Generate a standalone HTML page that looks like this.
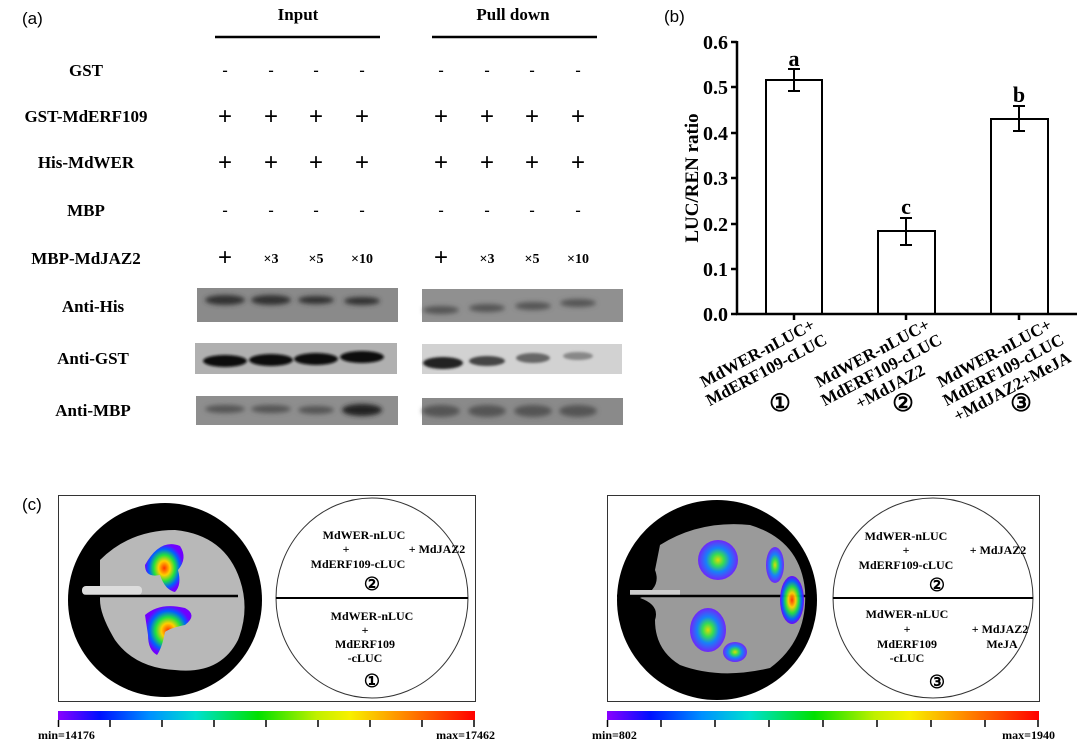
<!DOCTYPE html>
<html><head><meta charset="utf-8"><style>
html,body{margin:0;padding:0;background:#fff}
svg{display:block}
.b{font-family:"Liberation Serif",serif;font-weight:bold}
.s{font-family:"Liberation Sans",sans-serif}
</style></head><body>
<svg width="1080" height="743" viewBox="0 0 1080 743" xmlns="http://www.w3.org/2000/svg">
<defs>
<filter id="blur2"><feGaussianBlur stdDeviation="2.5"/></filter>
<filter id="blur1"><feGaussianBlur stdDeviation="1.2"/></filter>
<linearGradient id="cb" x1="0" x2="1">
<stop offset="0" stop-color="#8a00ff"/><stop offset="0.1" stop-color="#0010ff"/><stop offset="0.22" stop-color="#0090ff"/><stop offset="0.33" stop-color="#00e0d0"/><stop offset="0.48" stop-color="#00e000"/><stop offset="0.62" stop-color="#c0f000"/><stop offset="0.7" stop-color="#f8f000"/><stop offset="0.82" stop-color="#ff9000"/><stop offset="1" stop-color="#ff0000"/>
</linearGradient>
<radialGradient id="hot"><stop offset="0" stop-color="#ff3000"/><stop offset="0.3" stop-color="#ffd000"/><stop offset="0.55" stop-color="#20e040"/><stop offset="0.8" stop-color="#0060ff"/><stop offset="1" stop-color="#7000ff"/></radialGradient>
<radialGradient id="cool"><stop offset="0" stop-color="#e0e000"/><stop offset="0.3" stop-color="#30e050"/><stop offset="0.6" stop-color="#1080ff"/><stop offset="1" stop-color="#7020ff"/></radialGradient>
</defs>

<!-- Panel a -->
<text x="22" y="24" class="s" font-size="17">(a)</text>
<text x="298" y="20" class="b" font-size="17" text-anchor="middle">Input</text>
<text x="513" y="20" class="b" font-size="17" text-anchor="middle">Pull down</text>
<line x1="215" y1="37" x2="380" y2="37" stroke="#000" stroke-width="2.5"/>
<line x1="432" y1="37" x2="597" y2="37" stroke="#000" stroke-width="2.5"/>
<g class="b" font-size="17" text-anchor="middle">
<text x="86" y="76">GST</text>
<text x="86" y="122">GST-MdERF109</text>
<text x="86" y="168">His-MdWER</text>
<text x="86" y="216">MBP</text>
<text x="86" y="264">MBP-MdJAZ2</text>
<text x="93" y="312">Anti-His</text>
<text x="93" y="364">Anti-GST</text>
<text x="93" y="416">Anti-MBP</text>
</g>
<g class="b" font-size="16" text-anchor="middle">
<g id="colsA">
<text x="225" y="75">-</text><text x="271" y="75">-</text><text x="316" y="75">-</text><text x="362" y="75">-</text>
<g font-size="24" font-weight="normal" class="s"><text x="225" y="124">+</text><text x="271" y="124">+</text><text x="316" y="124">+</text><text x="362" y="124">+</text>
<text x="225" y="170">+</text><text x="271" y="170">+</text><text x="316" y="170">+</text><text x="362" y="170">+</text>
<text x="225" y="265">+</text></g>
<text x="225" y="215">-</text><text x="271" y="215">-</text><text x="316" y="215">-</text><text x="362" y="215">-</text>
<text x="271" y="263" font-size="14">×3</text><text x="316" y="263" font-size="14">×5</text><text x="362" y="263" font-size="14">×10</text>
</g>
<use href="#colsA" x="216"/>
</g>
<!-- blots -->
<g>
<rect x="197" y="288" width="201" height="34" fill="#8a8a8a"/>
<rect x="422" y="289" width="201" height="33" fill="#909090"/>
<rect x="195" y="343" width="202" height="31" fill="#b0b0b0"/>
<rect x="422" y="344" width="200" height="30" fill="#d2d2d2"/>
<rect x="196" y="396" width="202" height="29" fill="#8e8e8e"/>
<rect x="422" y="398" width="201" height="27" fill="#8a8a8a"/>
<g filter="url(#blur2)" fill="#333">
<ellipse cx="225" cy="300" rx="20" ry="5"/><ellipse cx="271" cy="300" rx="20" ry="5"/><ellipse cx="316" cy="300" rx="18" ry="4"/><ellipse cx="362" cy="301" rx="18" ry="4"/>
<ellipse cx="441" cy="310" rx="18" ry="4" fill="#555"/><ellipse cx="487" cy="308" rx="18" ry="4" fill="#555"/><ellipse cx="533" cy="306" rx="18" ry="4" fill="#555"/><ellipse cx="578" cy="303" rx="18" ry="4" fill="#555"/>
<ellipse cx="225" cy="409" rx="20" ry="4" fill="#555"/><ellipse cx="271" cy="409" rx="20" ry="4" fill="#555"/><ellipse cx="316" cy="410" rx="18" ry="4" fill="#555"/><ellipse cx="362" cy="410" rx="20" ry="6" fill="#222"/>
<ellipse cx="441" cy="411" rx="19" ry="6" fill="#555"/><ellipse cx="487" cy="411" rx="19" ry="6" fill="#555"/><ellipse cx="533" cy="411" rx="19" ry="6" fill="#555"/><ellipse cx="578" cy="411" rx="19" ry="6" fill="#555"/>
</g>
<g filter="url(#blur1)">
<ellipse cx="225" cy="361" rx="22" ry="6" fill="#111"/><ellipse cx="271" cy="360" rx="22" ry="6" fill="#111"/><ellipse cx="316" cy="359" rx="22" ry="6" fill="#111"/><ellipse cx="362" cy="357" rx="22" ry="6" fill="#111"/>
<ellipse cx="443" cy="363" rx="20" ry="6" fill="#222"/><ellipse cx="487" cy="361" rx="18" ry="5" fill="#444"/><ellipse cx="533" cy="358" rx="17" ry="5" fill="#666"/><ellipse cx="578" cy="356" rx="15" ry="4" fill="#888"/>
</g>
</g>

<!-- Panel b -->
<text x="664" y="22" class="s" font-size="17">(b)</text>
<g stroke="#000" stroke-width="2.5" fill="none">
<line x1="737" y1="41" x2="737" y2="315"/>
<line x1="736" y1="314" x2="1077" y2="314"/>
<line x1="731" y1="42" x2="737" y2="42"/><line x1="731" y1="87" x2="737" y2="87"/><line x1="731" y1="133" x2="737" y2="133"/><line x1="731" y1="178" x2="737" y2="178"/><line x1="731" y1="224" x2="737" y2="224"/><line x1="731" y1="269" x2="737" y2="269"/><line x1="731" y1="314" x2="737" y2="314"/>
<line x1="794" y1="314" x2="794" y2="320"/><line x1="906" y1="314" x2="906" y2="320"/><line x1="1019" y1="314" x2="1019" y2="320"/>
<rect x="766" y="80" width="56" height="234" stroke-width="2"/>
<rect x="878" y="231" width="57" height="83" stroke-width="2"/>
<rect x="991" y="119" width="57" height="195" stroke-width="2"/>
<g stroke-width="2">
<line x1="794" y1="69" x2="794" y2="91"/><line x1="788" y1="69" x2="800" y2="69"/><line x1="788" y1="91" x2="800" y2="91"/>
<line x1="906" y1="218" x2="906" y2="245"/><line x1="900" y1="218" x2="912" y2="218"/><line x1="900" y1="245" x2="912" y2="245"/>
<line x1="1019" y1="106" x2="1019" y2="131"/><line x1="1013" y1="106" x2="1025" y2="106"/><line x1="1013" y1="131" x2="1025" y2="131"/>
</g>
</g>
<g class="b" font-size="20" text-anchor="end">
<text x="728" y="49">0.6</text><text x="728" y="94">0.5</text><text x="728" y="140">0.4</text><text x="728" y="185">0.3</text><text x="728" y="231">0.2</text><text x="728" y="276">0.1</text><text x="728" y="321">0.0</text>
</g>
<text transform="translate(698,178) rotate(-90)" class="b" font-size="19" text-anchor="middle">LUC/REN ratio</text>
<g class="b" font-size="22" text-anchor="middle">
<text x="794" y="66">a</text><text x="906" y="214">c</text><text x="1019" y="102">b</text>
</g>
<g class="b" font-size="17" text-anchor="middle">
<text transform="translate(760,358) rotate(-28)"><tspan x="0" y="0">MdWER-nLUC+</tspan><tspan x="0" y="19">MdERF109-cLUC</tspan></text>
<text transform="translate(875,358) rotate(-28)"><tspan x="0" y="0">MdWER-nLUC+</tspan><tspan x="0" y="19">MdERF109-cLUC</tspan><tspan x="0" y="38">+MdJAZ2</tspan></text>
<text transform="translate(997,358) rotate(-28)"><tspan x="0" y="0">MdWER-nLUC+</tspan><tspan x="0" y="19">MdERF109-cLUC</tspan><tspan x="0" y="38">+MdJAZ2+MeJA</tspan></text>
</g>
<g class="b" font-size="24" text-anchor="middle">
<text x="780" y="411">①</text><text x="903" y="411">②</text><text x="1021" y="411">③</text>
</g>

<!-- Panel c -->
<text x="22" y="510" class="s" font-size="17">(c)</text>
<rect x="58.5" y="495.5" width="417" height="206" fill="#fff" stroke="#333" stroke-width="1"/>
<circle cx="165" cy="600" r="97" fill="#000"/>
<path d="M100,560 Q130,530 175,530 Q225,535 240,580 Q250,610 238,640 Q220,675 175,670 Q135,668 115,640 Q100,615 100,600 Z" fill="#b8b8b8"/>
<rect x="82" y="586" width="60" height="9" rx="4" fill="#ddd"/>
<line x1="82" y1="596" x2="238" y2="596" stroke="#000" stroke-width="2.5"/>
<path d="M145,565 Q160,538 180,546 Q188,558 178,570 Q182,585 175,592 Q165,590 160,575 Q145,578 145,565Z" fill="url(#hot)"/>
<path d="M145,615 Q160,602 185,608 Q198,615 185,625 Q170,628 165,632 Q162,648 157,655 Q148,650 148,635Z" fill="url(#hot)"/>
<ellipse cx="372" cy="598" rx="96" ry="100" fill="none" stroke="#333" stroke-width="1"/>
<line x1="276" y1="598" x2="468" y2="598" stroke="#000" stroke-width="2"/>
<g class="b" font-size="12" text-anchor="middle">
<text x="364" y="539">MdWER-nLUC</text><text x="346" y="553">+</text><text x="358" y="568">MdERF109-cLUC</text><text x="437" y="553">+ MdJAZ2</text>
<text x="372" y="620">MdWER-nLUC</text><text x="365" y="634">+</text><text x="365" y="648">MdERF109</text><text x="365" y="662">-cLUC</text>
</g>
<g class="b" font-size="18" text-anchor="middle"><text x="372" y="590">②</text><text x="372" y="687">①</text></g>
<rect x="58" y="711" width="417" height="9" fill="url(#cb)"/>
<g stroke="#000" stroke-width="1.5">
<line x1="58.5" y1="720" x2="58.5" y2="727"/><line x1="110" y1="720" x2="110" y2="727"/><line x1="162" y1="720" x2="162" y2="727"/><line x1="214" y1="720" x2="214" y2="727"/><line x1="266" y1="720" x2="266" y2="727"/><line x1="318" y1="720" x2="318" y2="727"/><line x1="370" y1="720" x2="370" y2="727"/><line x1="422" y1="720" x2="422" y2="727"/><line x1="474" y1="720" x2="474" y2="727"/>
</g>
<text x="38" y="739" class="b" font-size="12">min=14176</text>
<text x="495" y="739" class="b" font-size="12" text-anchor="end">max=17462</text>

<rect x="607.5" y="495.5" width="432" height="206" fill="#fff" stroke="#333" stroke-width="1"/>
<circle cx="717" cy="600" r="100" fill="#000"/>
<path d="M660,545 Q700,520 750,525 Q800,540 805,590 Q808,640 770,668 Q720,680 680,665 Q655,650 655,620 Q660,605 640,598 Q662,588 655,570Z" fill="#9a9a9a"/>
<rect x="630" y="590" width="50" height="7" fill="#ccc"/>
<line x1="617" y1="596" x2="808" y2="596" stroke="#000" stroke-width="2.5"/>
<g opacity="0.95">
<ellipse cx="718" cy="560" rx="20" ry="20" fill="url(#cool)"/>
<ellipse cx="775" cy="565" rx="9" ry="18" fill="url(#cool)"/>
<ellipse cx="792" cy="600" rx="12" ry="24" fill="url(#hot)"/>
<ellipse cx="708" cy="630" rx="18" ry="22" fill="url(#cool)"/>
<ellipse cx="735" cy="652" rx="12" ry="10" fill="url(#cool)"/>
</g>
<ellipse cx="933" cy="598" rx="100" ry="100" fill="none" stroke="#333" stroke-width="1"/>
<line x1="833" y1="598" x2="1033" y2="598" stroke="#000" stroke-width="2"/>
<g class="b" font-size="12" text-anchor="middle">
<text x="906" y="540">MdWER-nLUC</text><text x="906" y="554">+</text><text x="906" y="569">MdERF109-cLUC</text><text x="998" y="554">+ MdJAZ2</text>
<text x="907" y="618">MdWER-nLUC</text><text x="907" y="633">+</text><text x="907" y="648">MdERF109</text><text x="907" y="662">-cLUC</text>
<text x="1000" y="633">+ MdJAZ2</text><text x="1002" y="648">MeJA</text>
</g>
<g class="b" font-size="18" text-anchor="middle"><text x="937" y="591">②</text><text x="937" y="688">③</text></g>
<rect x="607" y="711" width="432" height="9" fill="url(#cb)"/>
<g stroke="#000" stroke-width="1.5">
<line x1="607.5" y1="720" x2="607.5" y2="727"/><line x1="661" y1="720" x2="661" y2="727"/><line x1="715" y1="720" x2="715" y2="727"/><line x1="769" y1="720" x2="769" y2="727"/><line x1="823" y1="720" x2="823" y2="727"/><line x1="877" y1="720" x2="877" y2="727"/><line x1="931" y1="720" x2="931" y2="727"/><line x1="985" y1="720" x2="985" y2="727"/><line x1="1038" y1="720" x2="1038" y2="727"/>
</g>
<text x="592" y="739" class="b" font-size="12">min=802</text>
<text x="1055" y="739" class="b" font-size="12" text-anchor="end">max=1940</text>
</svg>
</body></html>
